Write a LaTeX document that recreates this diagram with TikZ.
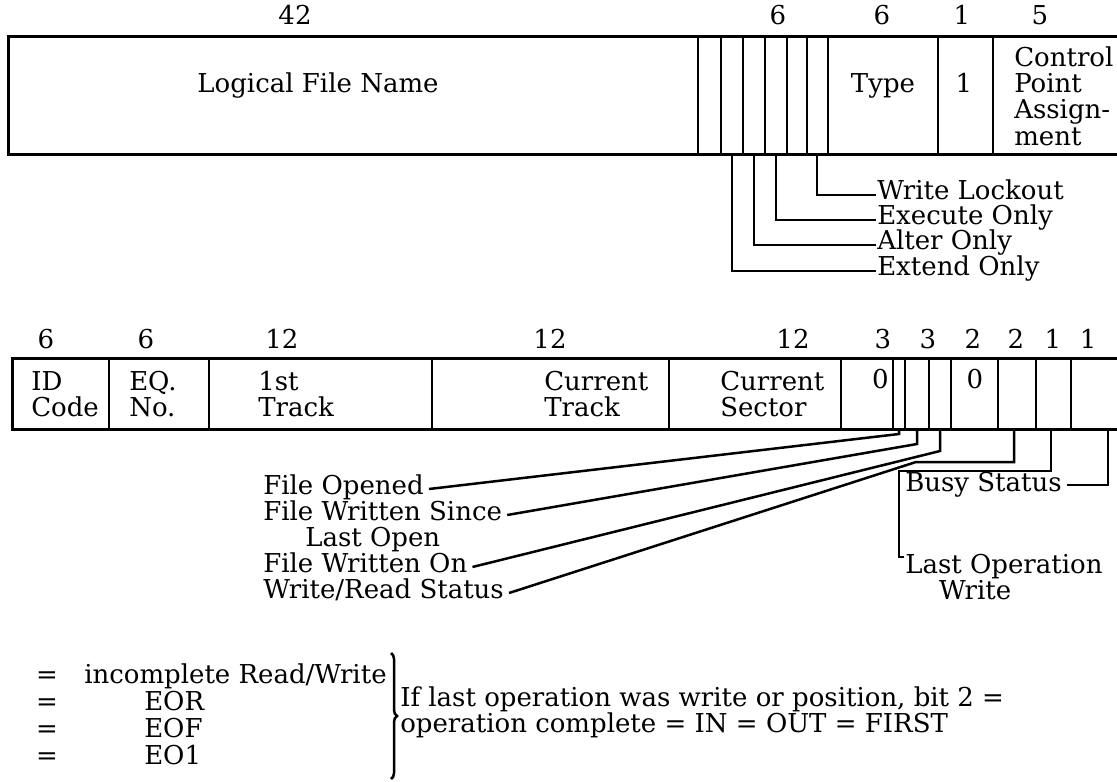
\documentclass[tikz,border=0pt]{standalone}
\usepackage{fontspec}
\setmainfont{DejaVu Serif}
\usetikzlibrary{decorations.pathreplacing}

\tikzset{
  txt/.style={inner sep=0pt, font=\fontsize{13}{13.2}\selectfont},
  word/.style={line width=1.5pt},
}

\begin{document}
\begin{tikzpicture}[x=0.5pt, y=-0.5pt, line width=1.25pt]
    \clip (0,0) rectangle (1117,781);
    % first word
    \draw[word] (1117,37) -- (8,37) -- (8,154) -- (1117,154);
    \foreach \x in {698,721,743,765,787,807,828,938,993}
        \draw (\x,37) -- (\x,154);
    \node[txt, anchor=base] (wA) at (295,25) {42};
    \node[txt, anchor=base] (wB) at (778,25) {6};
    \node[txt, anchor=base] (wC) at (882,25) {6};
    \node[txt, anchor=base] (wD) at (962,25) {1};
    \node[txt, anchor=base] (wE) at (1040,25) {5};
    \node[txt, anchor=base] (lfn) at (318,92) {Logical File Name};
    \node[txt, anchor=base] (type) at (883,92) {Type};
    \node[txt, anchor=base] (one) at (964,92) {1};
    \node[txt, anchor=north west, align=left] (cpa) at (1013,45) {Control\\Point\\Assign-\\ment};
    % access bits
    \coordinate (extA) at (732,154);
    \coordinate (altA) at (754,154);
    \coordinate (exeA) at (776,154);
    \coordinate (wloA) at (817,154);
    \node[txt, anchor=base west] (wlo) at (876,199) {Write Lockout};
    \node[txt, anchor=base west] (exe) at (876,224) {Execute Only};
    \node[txt, anchor=base west] (alt) at (876,249) {Alter Only};
    \node[txt, anchor=base west] (ext) at (876,275) {Extend Only};
    \draw (wloA) |- ([yshift=2pt]wlo.base west);
    \draw (exeA) |- ([yshift=2pt]exe.base west);
    \draw (altA) |- ([yshift=2pt]alt.base west);
    \draw (extA) |- ([yshift=2pt]ext.base west);

    % second word
    \draw[word] (1117,358) -- (12,358) -- (12,429) -- (1117,429);
    \foreach \x in {109,209,432,669,841,893,905,929,951,998,1036,1071}
        \draw (\x,358) -- (\x,429);
    \node[txt, anchor=base] (bA) at (46,348) {6};
    \node[txt, anchor=base] (bB) at (146,348) {6};
    \node[txt, anchor=base] (bC) at (282,348) {12};
    \node[txt, anchor=base] (bD) at (550,348) {12};
    \node[txt, anchor=base] (bE) at (793,348) {12};
    \node[txt, anchor=base] (bF) at (883,348) {3};
    \node[txt, anchor=base] (bG) at (928,348) {3};
    \node[txt, anchor=base] (bH) at (973,348) {2};
    \node[txt, anchor=base] (bI) at (1016,348) {2};
    \node[txt, anchor=base] (bJ) at (1053,348) {1};
    \node[txt, anchor=base] (bK) at (1088,348) {1};
    \node[txt, anchor=north west, align=left] (idc) at (30,370) {ID\\Code};
    \node[txt, anchor=north west, align=left] (eqn) at (128,370) {EQ.\\No.};
    \node[txt, anchor=north west, align=left] (ftr) at (257,370) {1st\\Track};
    \node[txt, anchor=north west, align=left] (ctr) at (543,370) {Current\\Track};
    \node[txt, anchor=north west, align=left] (csc) at (719,370) {Current\\Sector};
    \node[txt, anchor=base east] (zA) at (890,388) {0};
    \node[txt, anchor=base] (zB) at (975,388) {0};

    % status bits
    \coordinate (foA) at (899,429); \coordinate (foB) at (899,434);
    \coordinate (fsA) at (917,429); \coordinate (fsB) at (917,444);
    \coordinate (fwA) at (940,429); \coordinate (fwB) at (940,451);
    \coordinate (wrA) at (1014,429); \coordinate (wrB) at (916,462);
    \coordinate (loA) at (1051,429); \coordinate (loB) at (899,471);
    \coordinate (bsA) at (1108,429);
    \node[txt, anchor=base west] (fo) at (262,494) {File Opened};
    \node[txt, anchor=base west] (fs) at (262,520) {File Written Since};
    \node[txt, anchor=base west] (lopen) at (304,546) {Last Open};
    \node[txt, anchor=base west] (fw) at (262,572) {File Written On};
    \node[txt, anchor=base west] (wr) at (262,598) {Write/Read Status};
    \node[txt, anchor=base west] (busy) at (904,491) {Busy Status};
    \node[txt, anchor=north west, align=left] (lop) at (904,553) {Last Operation\\\hspace*{1.3em}Write};
    \draw ([shift={(2pt,2.5pt)}]fo.base east) -- (foB) -- (foA);
    \draw ([shift={(2pt,2.5pt)}]fs.base east) -- (fsB) -- (fsA);
    \draw ([shift={(2pt,2.5pt)}]fw.base east) -- (fwB) -- (fwA);
    \draw ([shift={(2pt,2.5pt)}]wr.base east) -- (wrB) -| (wrA);
    \draw (loA) |- (loB) |- ([yshift=-2pt]lop.north west);
    \draw ([shift={(2pt,3pt)}]busy.base east) -| (bsA);

    % end codes
    \node[txt, anchor=base] (eqA) at (47,683) {=};
    \node[txt, anchor=base] (eqB) at (47,710) {=};
    \node[txt, anchor=base] (eqC) at (47,737) {=};
    \node[txt, anchor=base] (eqD) at (47,764) {=};
    \node[txt, anchor=base west] (rwA) at (83,683) {incomplete Read/Write};
    \node[txt, anchor=base west] (rwB) at (143,710) {EOR};
    \node[txt, anchor=base west] (rwC) at (143,737) {EOF};
    \node[txt, anchor=base west] (rwD) at (143,764) {EO1};
    \coordinate (brT) at (391,653);
    \coordinate (brB) at (391,779);
    \draw[decorate, decoration={brace, amplitude=3pt}] (brT) -- (brB);
    \node[txt, anchor=base west] (ifA) at (399,706) {If last operation was write or position, bit 2 =};
    \node[txt, anchor=base west] (ifB) at (399,732) {operation complete = IN = OUT = FIRST};
\end{tikzpicture}
\end{document}
